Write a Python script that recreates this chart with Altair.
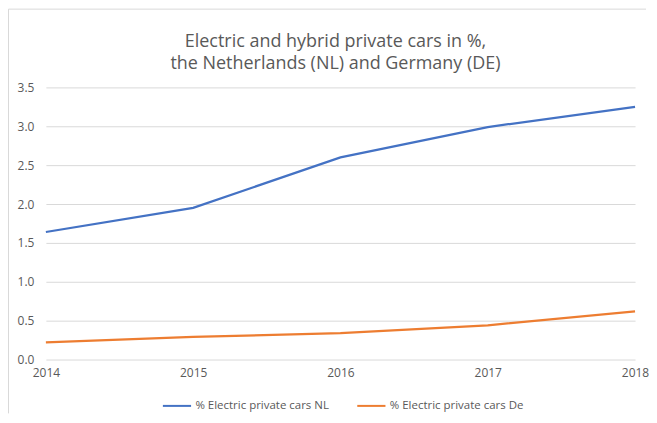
import altair as alt
import pandas as pd

years = [2014, 2015, 2016, 2017, 2018]
nl = [1.64, 1.95, 2.60, 2.99, 3.25]
de = [0.22, 0.29, 0.34, 0.44, 0.62]
series_names = ["% Electric private cars NL", "% Electric private cars De"]
colors = ["#4472C4", "#ED7D31"]
title_lines = ["Electric and hybrid private cars in %,",
               "the Netherlands (NL) and Germany (DE)"]

rows = []
for y, v in zip(years, nl):
    rows.append({"year": y, "value": v, "series": series_names[0]})
for y, v in zip(years, de):
    rows.append({"year": y, "value": v, "series": series_names[1]})
df = pd.DataFrame(rows)
one = pd.DataFrame({"k": [0]})

W, H = 591, 273
FONT = "Open Sans"
TXT = "#595959"

lines = alt.Chart(df).mark_line(strokeWidth=2.25).encode(
    x=alt.X("year:Q", scale=alt.Scale(domain=[2014, 2018], nice=False, zero=False),
            axis=alt.Axis(values=years, format="d", title=None, grid=False, domain=False,
                          ticks=False, labelPadding=8, labelFontSize=12, labelColor=TXT,
                          labelFont=FONT, labelFlush=False, labelBound=False)),
    y=alt.Y("value:Q", scale=alt.Scale(domain=[0, 3.5], nice=False),
            axis=alt.Axis(values=[0, 0.5, 1, 1.5, 2, 2.5, 3, 3.5], format=".1f", title=None,
                          domain=False, ticks=False, labelPadding=12, labelFontSize=12,
                          labelColor=TXT, labelFont=FONT, gridColor="#D9D9D9", gridWidth=1,
                          labelFlush=False, labelBound=False)),
    color=alt.Color("series:N", sort=series_names,
                    scale=alt.Scale(domain=series_names, range=colors),
                    legend=alt.Legend(title=None, orient="none", legendX=116, legendY=304,
                                      direction="horizontal", symbolType="stroke",
                                      symbolSize=800, symbolStrokeWidth=2,
                                      labelFontSize=11.5, labelColor=TXT, labelFont=FONT,
                                      columnPadding=24, labelOffset=3)),
)

border_left = alt.Chart(one).mark_rule(color="#D9D9D9", strokeWidth=1, clip=False).encode(
    x=alt.value(-37.5), y=alt.value(-78.5), y2=alt.value(H + 54))
border_top = alt.Chart(one).mark_rule(color="#D9D9D9", strokeWidth=1, clip=False).encode(
    x=alt.value(-37.5), x2=alt.value(W + 11), y=alt.value(-78.5))

title = alt.Chart(one).mark_text(
    font=FONT, fontSize=18, color=TXT, align="center", baseline="middle",
    lineHeight=23, clip=False
).encode(x=alt.value(290.5), y=alt.value(-46), text=alt.value(title_lines))

chart = alt.layer(border_left, border_top, title, lines).properties(
    width=W, height=H,
    padding=0,
).configure_view(stroke=None)

chart.save("out.html", embed_options={"renderer": "svg", "actions": False})
